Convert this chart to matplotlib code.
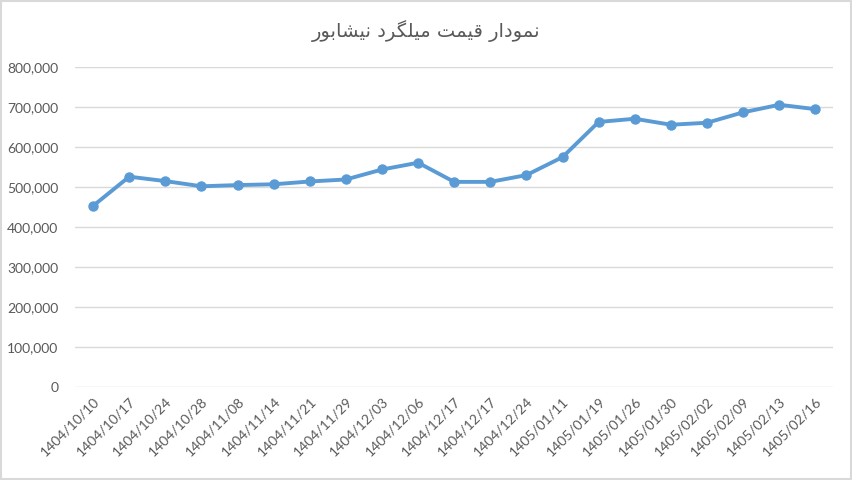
import matplotlib
matplotlib.use("Agg")
import matplotlib.pyplot as plt
from matplotlib.patches import Rectangle
from matplotlib.ticker import FuncFormatter

title = "نمودار قیمت میلگرد نیشابور"

dates = ["1404/10/10", "1404/10/17", "1404/10/24", "1404/10/28", "1404/11/08",
         "1404/11/14", "1404/11/21", "1404/11/29", "1404/12/03", "1404/12/06",
         "1404/12/17", "1404/12/17", "1404/12/24", "1405/01/11", "1405/01/19",
         "1405/01/26", "1405/01/30", "1405/02/02", "1405/02/09", "1405/02/13",
         "1405/02/16"]
prices = [453000, 526000, 515000, 502000, 505000,
          507000, 514000, 519000, 544000, 561000,
          513000, 513000, 530000, 575000, 663000,
          671000, 656000, 661000, 687000, 706000,
          695000]
y_ticks = [0, 100000, 200000, 300000, 400000, 500000, 600000, 700000, 800000]

# matplotlib does no arabic shaping, so pick the joined forms by hand
FORMS = {
    'ا': (0xFE8D, 0xFE8E, None, None),
    'ب': (0xFE8F, 0xFE90, 0xFE91, 0xFE92),
    'ت': (0xFE95, 0xFE96, 0xFE97, 0xFE98),
    'د': (0xFEA9, 0xFEAA, None, None),
    'ر': (0xFEAD, 0xFEAE, None, None),
    'ش': (0xFEB5, 0xFEB6, 0xFEB7, 0xFEB8),
    'ق': (0xFED5, 0xFED6, 0xFED7, 0xFED8),
    'ل': (0xFEDD, 0xFEDE, 0xFEDF, 0xFEE0),
    'م': (0xFEE1, 0xFEE2, 0xFEE3, 0xFEE4),
    'ن': (0xFEE5, 0xFEE6, 0xFEE7, 0xFEE8),
    'و': (0xFEED, 0xFEEE, None, None),
    'گ': (0xFB92, 0xFB93, 0xFB94, 0xFB95),
    'ی': (0xFBFC, 0xFBFD, 0xFBFE, 0xFBFF),
}


def shape(text):
    out = []
    for i, ch in enumerate(text):
        if ch not in FORMS:
            out.append(ch)
            continue
        prev = text[i - 1] if i > 0 else ''
        nxt = text[i + 1] if i < len(text) - 1 else ''
        join_prev = prev in FORMS and FORMS[prev][2] is not None
        join_next = nxt in FORMS and FORMS[ch][2] is not None
        iso, fin, ini, med = FORMS[ch]
        if join_prev and join_next:
            code = med
        elif join_prev:
            code = fin
        elif join_next:
            code = ini
        else:
            code = iso
        out.append(chr(code))
    return ''.join(reversed(out))


plt.rcParams['font.family'] = ['Lato', 'DejaVu Sans']

fig = plt.figure(figsize=(8.53, 4.8), dpi=100)
ax = fig.add_axes([0.088, 0.194, 0.889, 0.666])

x = list(range(len(dates)))
ax.plot(x, prices, "o-", color="#5B9BD5", linewidth=2.8, markersize=6.5)

ax.set_xlim(-0.5, len(dates) - 0.5)
ax.set_ylim(0, 800000)
ax.set_yticks(y_ticks)
ax.yaxis.set_major_formatter(FuncFormatter(lambda v, p: f"{int(v):,}"))
ax.set_xticks(x)
ax.set_xticklabels(dates, rotation=45, ha="right", va="top", rotation_mode="anchor")

ax.grid(axis="y", color="#D9D9D9", linewidth=1)
ax.set_axisbelow(True)
for s in ax.spines.values():
    s.set_visible(False)
ax.tick_params(length=0, colors="#595959", labelsize=10)
ax.tick_params(axis="y", pad=12)
ax.tick_params(axis="x", pad=6)

fig.text(0.5, 0.935, shape(title), ha="center", va="center", fontsize=14,
         color="#595959", family=["DejaVu Sans"])

fig.patches.append(Rectangle((0.001, 0.002), 0.997, 0.995, transform=fig.transFigure,
                             fill=False, edgecolor="#D9D9D9", linewidth=1.5))

fig.savefig("out.png", dpi=100)
